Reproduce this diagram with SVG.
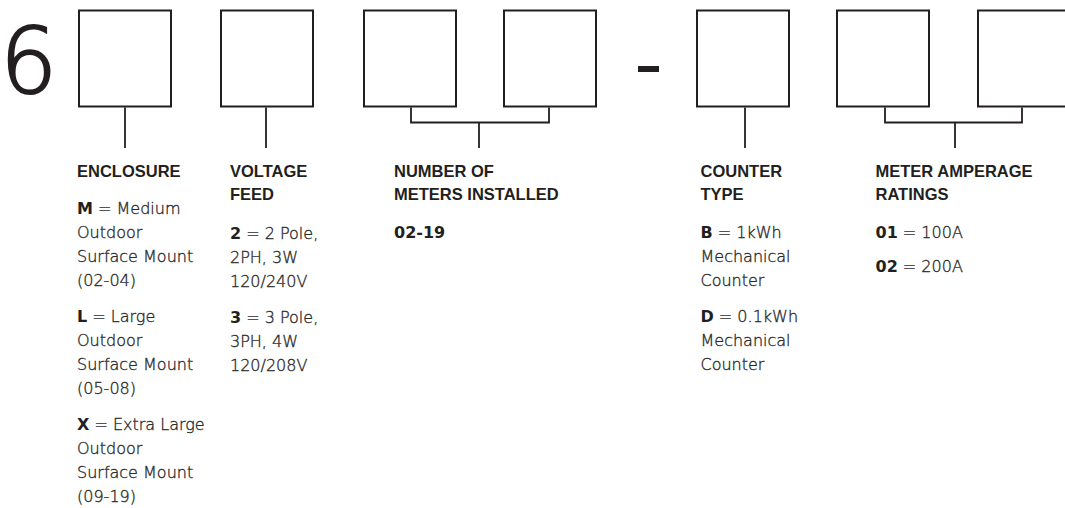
<svg xmlns="http://www.w3.org/2000/svg" width="1065" height="508" viewBox="0 0 1065 508">
<style>
.box{fill:#fff;stroke:#231f20;stroke-width:2}
.ln{fill:none;stroke:#231f20;stroke-width:1.8}
.h{font-family:"Liberation Sans",Arial,sans-serif;font-weight:700;font-size:16.5px;fill:#231f20}
.t{font-family:"DejaVu Sans","Open Sans",sans-serif;font-weight:300;font-size:16px;fill:#2b2b2b;stroke:#2b2b2b;stroke-width:0.35}
.b{font-family:"DejaVu Sans",sans-serif;font-weight:700;fill:#231f20;stroke:none}
.big{font-family:"DejaVu Sans",sans-serif;font-weight:300;font-size:90px;fill:#231f20;stroke:#231f20;stroke-width:2}
</style>
<rect width="1065" height="508" fill="#fff"/>
<text class="big" x="0" y="93">6</text>
<g id="box1"><rect class="box" x="79" y="10.5" width="92" height="96"/></g>
<g id="box2"><rect class="box" x="221" y="10.5" width="92" height="96"/></g>
<g id="box3"><rect class="box" x="364" y="10.5" width="92" height="96"/></g>
<g id="box4"><rect class="box" x="504" y="10.5" width="92" height="96"/></g>
<g id="dash"><rect x="638" y="66" width="21" height="6" fill="#231f20"/></g>
<g id="box5"><rect class="box" x="697" y="10.5" width="92" height="96"/></g>
<g id="box6"><rect class="box" x="837" y="10.5" width="92" height="96"/></g>
<g id="box7"><rect class="box" x="978" y="10.5" width="92" height="96"/></g>
<g id="connectors">
<line class="ln" x1="125" y1="107.5" x2="125" y2="148"/>
<line class="ln" x1="266" y1="107.5" x2="266" y2="148"/>
<polyline class="ln" points="411,107.5 411,122.5 549,122.5 549,107.5"/>
<line class="ln" x1="479" y1="122.5" x2="479" y2="148"/>
<line class="ln" x1="745" y1="107.5" x2="745" y2="148"/>
<polyline class="ln" points="885,107.5 885,122.5 1022,122.5 1022,107.5"/>
<line class="ln" x1="955" y1="122.5" x2="955" y2="148"/>
</g>
<g id="enclosure">
<text class="h" x="77" y="176.5">ENCLOSURE</text>
<text class="t" x="77" y="213.5"><tspan class="b">M</tspan> = Medium</text>
<text class="t" x="77" y="237.5">Outdoor</text>
<text class="t" x="77" y="261.5">Surface Mount</text>
<text class="t" x="77" y="285.5">(02-04)</text>
<text class="t" x="77" y="321.5"><tspan class="b">L</tspan> = Large</text>
<text class="t" x="77" y="345.5">Outdoor</text>
<text class="t" x="77" y="369.5">Surface Mount</text>
<text class="t" x="77" y="393.5">(05-08)</text>
<text class="t" x="77" y="429.5"><tspan class="b">X</tspan> = Extra Large</text>
<text class="t" x="77" y="453.5">Outdoor</text>
<text class="t" x="77" y="477.5">Surface Mount</text>
<text class="t" x="77" y="501.5">(09-19)</text>
</g>
<g id="voltage-feed">
<text class="h" x="230" y="176.5">VOLTAGE</text>
<text class="h" x="230" y="200">FEED</text>
<text class="t" x="230" y="238.5"><tspan class="b">2</tspan> = 2 Pole,</text>
<text class="t" x="230" y="262.5">2PH, 3W</text>
<text class="t" x="230" y="286.5">120/240V</text>
<text class="t" x="230" y="322.5"><tspan class="b">3</tspan> = 3 Pole,</text>
<text class="t" x="230" y="346.5">3PH, 4W</text>
<text class="t" x="230" y="370.5">120/208V</text>
</g>
<g id="number-of-meters">
<text class="h" x="394" y="176.5">NUMBER OF</text>
<text class="h" x="394" y="200">METERS INSTALLED</text>
<text class="t" x="394" y="237.5"><tspan class="b">02-19</tspan></text>
</g>
<g id="counter-type">
<text class="h" x="700.5" y="176.5">COUNTER</text>
<text class="h" x="700.5" y="200">TYPE</text>
<text class="t" x="700.5" y="237.5"><tspan class="b">B</tspan> = 1kWh</text>
<text class="t" x="700.5" y="261.5">Mechanical</text>
<text class="t" x="700.5" y="285.5">Counter</text>
<text class="t" x="700.5" y="321.5"><tspan class="b">D</tspan> = 0.1kWh</text>
<text class="t" x="700.5" y="345.5">Mechanical</text>
<text class="t" x="700.5" y="369.5">Counter</text>
</g>
<g id="meter-amperage">
<text class="h" x="875.5" y="176.5">METER AMPERAGE</text>
<text class="h" x="875.5" y="200">RATINGS</text>
<text class="t" x="875.5" y="237.5"><tspan class="b">01</tspan> = 100A</text>
<text class="t" x="875.5" y="271.5"><tspan class="b">02</tspan> = 200A</text>
</g>
</svg>
